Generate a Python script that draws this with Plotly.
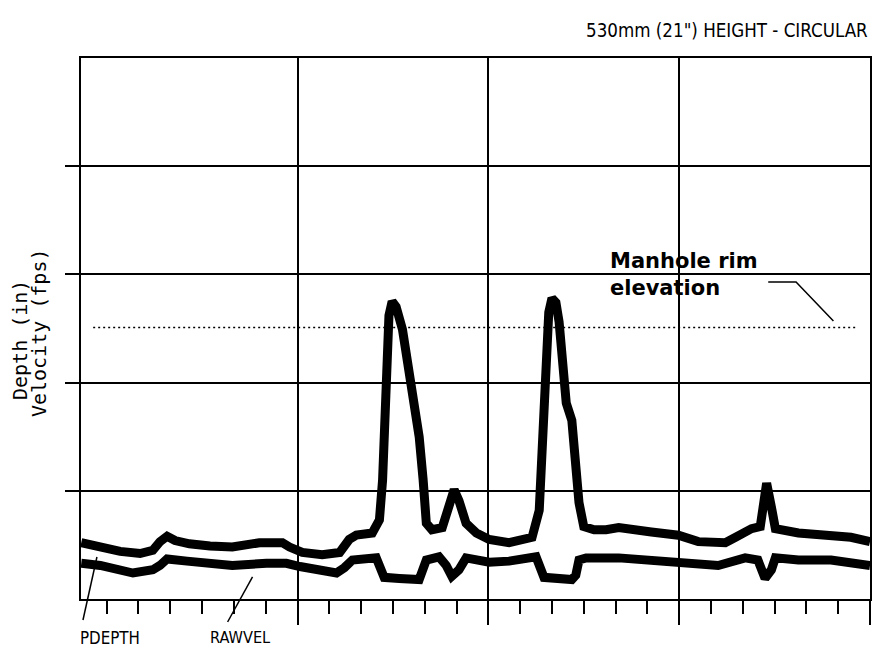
import plotly.graph_objects as go

# ---- data (hours on the time axis, values in axis units) ----
depth_hours = [20.8, 23.2, 25.7, 28.2, 29.8, 30.7, 31.6, 32.6, 34.4, 37.0, 39.8, 43.2, 46.1, 47.0,
               48.6, 51.1, 53.3, 54.5, 55.4, 57.4, 58.3, 58.7, 59.0, 59.5, 59.9, 60.4, 61.2, 61.8,
               62.4, 63.3, 63.8, 64.2, 64.9, 66.2, 67.1, 67.7, 68.3, 69.2, 70.5, 72.1, 74.6, 77.5,
               78.4, 78.9, 79.2, 79.6, 80.0, 80.5, 80.9, 81.4, 81.8, 82.5, 83.0, 83.4, 84.0, 85.3,
               86.8, 88.4, 92.5, 95.9, 98.4, 101.8, 103.1, 105.1, 106.2, 106.6, 107.0, 107.6, 108.1,
               111.0, 115.1, 117.6, 120.0]
pdepth = [0.52, 0.48, 0.44, 0.42, 0.45, 0.53, 0.58, 0.54, 0.51, 0.49, 0.48, 0.52, 0.52, 0.48,
          0.43, 0.41, 0.43, 0.55, 0.59, 0.61, 0.73, 1.10, 1.84, 2.62, 2.75, 2.70, 2.49, 2.19,
          1.87, 1.50, 1.10, 0.70, 0.64, 0.66, 0.87, 1.01, 0.91, 0.70, 0.61, 0.55, 0.52, 0.57,
          0.82, 1.65, 2.12, 2.65, 2.78, 2.74, 2.56, 2.12, 1.81, 1.65, 1.28, 0.89, 0.67, 0.64,
          0.64, 0.66, 0.62, 0.59, 0.53, 0.52, 0.57, 0.65, 0.67, 0.87, 1.07, 0.85, 0.65,
          0.61, 0.59, 0.57, 0.53]

vel_hours = [20.8, 23.2, 27.3, 29.8, 30.7, 31.6, 34.1, 37.0, 39.8, 44.1, 46.6, 48.3, 50.8, 52.9,
             53.9, 54.9, 57.9, 58.4, 58.9, 60.8, 63.3, 64.2, 65.8, 66.7, 67.4, 68.3, 69.2, 72.1,
             74.6, 78.0, 78.5, 79.0, 82.5, 83.0, 83.4, 84.3, 88.4, 92.5, 96.8, 100.9, 104.3,
             105.9, 106.8, 107.6, 108.1, 111.0, 115.1, 117.6, 120.0]
rawvel = [0.33, 0.31, 0.24, 0.27, 0.31, 0.37, 0.35, 0.33, 0.31, 0.33, 0.33, 0.30, 0.26, 0.24,
          0.29, 0.36, 0.38, 0.31, 0.20, 0.19, 0.18, 0.36, 0.39, 0.31, 0.21, 0.27, 0.38, 0.34,
          0.35, 0.39, 0.27, 0.20, 0.18, 0.22, 0.36, 0.38, 0.38, 0.36, 0.33, 0.31, 0.38,
          0.36, 0.19, 0.27, 0.38, 0.36, 0.36, 0.34, 0.31]

rim_level = 2.51
rim_span = [22.3, 118.5]

title_text = '530mm (21") HEIGHT - CIRCULAR'
y_title_lines = ["Depth (in)", "Velocity (fps)"]
series_labels = ["PDEPTH", "RAWVEL"]
rim_label = "Manhole rim<br>elevation"

x_range = [20.77, 120]
y_range = [0, 5]
day_ticks = [48, 72, 96, 120]
y_grid = [1, 2, 3, 4]

narrow = "DejaVu Sans Condensed, DejaVu Sans, sans-serif"

fig = go.Figure()
fig.add_trace(go.Scatter(x=depth_hours, y=pdepth, mode="lines", name=series_labels[0],
                         line=dict(color="black", width=9)))
fig.add_trace(go.Scatter(x=vel_hours, y=rawvel, mode="lines", name=series_labels[1],
                         line=dict(color="black", width=9)))
fig.add_trace(go.Scatter(x=rim_span, y=[rim_level, rim_level], mode="lines",
                         line=dict(color="black", width=1.5, dash="2px,3px")))

fig.update_layout(
    width=875, height=658,
    margin=dict(l=81, r=3, t=58, b=59),
    paper_bgcolor="white", plot_bgcolor="white",
    showlegend=False,
    xaxis=dict(range=x_range, tickmode="array", tickvals=day_ticks, showticklabels=False,
               ticks="outside", ticklen=24, tickwidth=1.5, tickcolor="black",
               showgrid=True, gridcolor="black", gridwidth=1.5, zeroline=False,
               showline=True, linecolor="black", linewidth=2, mirror=True,
               minor=dict(tick0=0, dtick=4, ticks="outside", ticklen=13, tickwidth=1.5,
                          tickcolor="black", showgrid=False)),
    yaxis=dict(range=y_range, tickmode="array", tickvals=y_grid, showticklabels=False,
               ticks="outside", ticklen=14, tickwidth=1.5, tickcolor="black",
               showgrid=True, gridcolor="black", gridwidth=1.5, zeroline=False,
               showline=True, linecolor="black", linewidth=2, mirror=True),
)

annos = [
    dict(text=title_text, xref="paper", yref="paper", x=1.0, y=1.05, xanchor="right",
         yanchor="middle", showarrow=False, font=dict(family=narrow, size=18.6, color="black")),
    dict(text=y_title_lines[0], xref="paper", yref="paper", x=-0.0771, y=0.479, textangle=-90,
         xanchor="center", yanchor="middle", showarrow=False,
         font=dict(family="DejaVu Sans Mono", size=20, color="black")),
    dict(text=y_title_lines[1], xref="paper", yref="paper", x=-0.0531, y=0.4917, textangle=-90,
         xanchor="center", yanchor="middle", showarrow=False,
         font=dict(family="DejaVu Sans Mono", size=20, color="black")),
    dict(text=series_labels[0], xref="paper", yref="paper", x=-0.004, y=-0.072, xanchor="left",
         yanchor="middle", showarrow=False, font=dict(family=narrow, size=16.8, color="black")),
    dict(text=series_labels[1], xref="paper", yref="paper", x=0.1606, y=-0.072, xanchor="left",
         yanchor="middle", showarrow=False, font=dict(family=narrow, size=16.2, color="black")),
    dict(text=rim_label, xref="x", yref="paper", x=48 + (609 - 298) / 7.97, y=(599 - 274) / 541,
         xanchor="left", yanchor="middle", align="left", showarrow=False,
         font=dict(family="DejaVu Sans", size=21, color="black", weight="bold")),
]
fig.update_layout(annotations=annos)

shapes = [
    dict(type="path", xref="x", yref="y", path="M 107.2 2.93 L 110.7 2.93 L 115.4 2.57",
         line=dict(color="black", width=1.5)),
    dict(type="line", xref="paper", yref="paper", x0=0.0025, y0=-0.0388, x1=0.0202, y1=0.0776,
         line=dict(color="black", width=1.5)),
    dict(type="line", xref="paper", yref="paper", x0=0.1858, y0=-0.0425, x1=0.2174, y1=0.0407,
         line=dict(color="black", width=1.5)),
]
fig.update_layout(shapes=shapes)

fig.write_html("out.html")
